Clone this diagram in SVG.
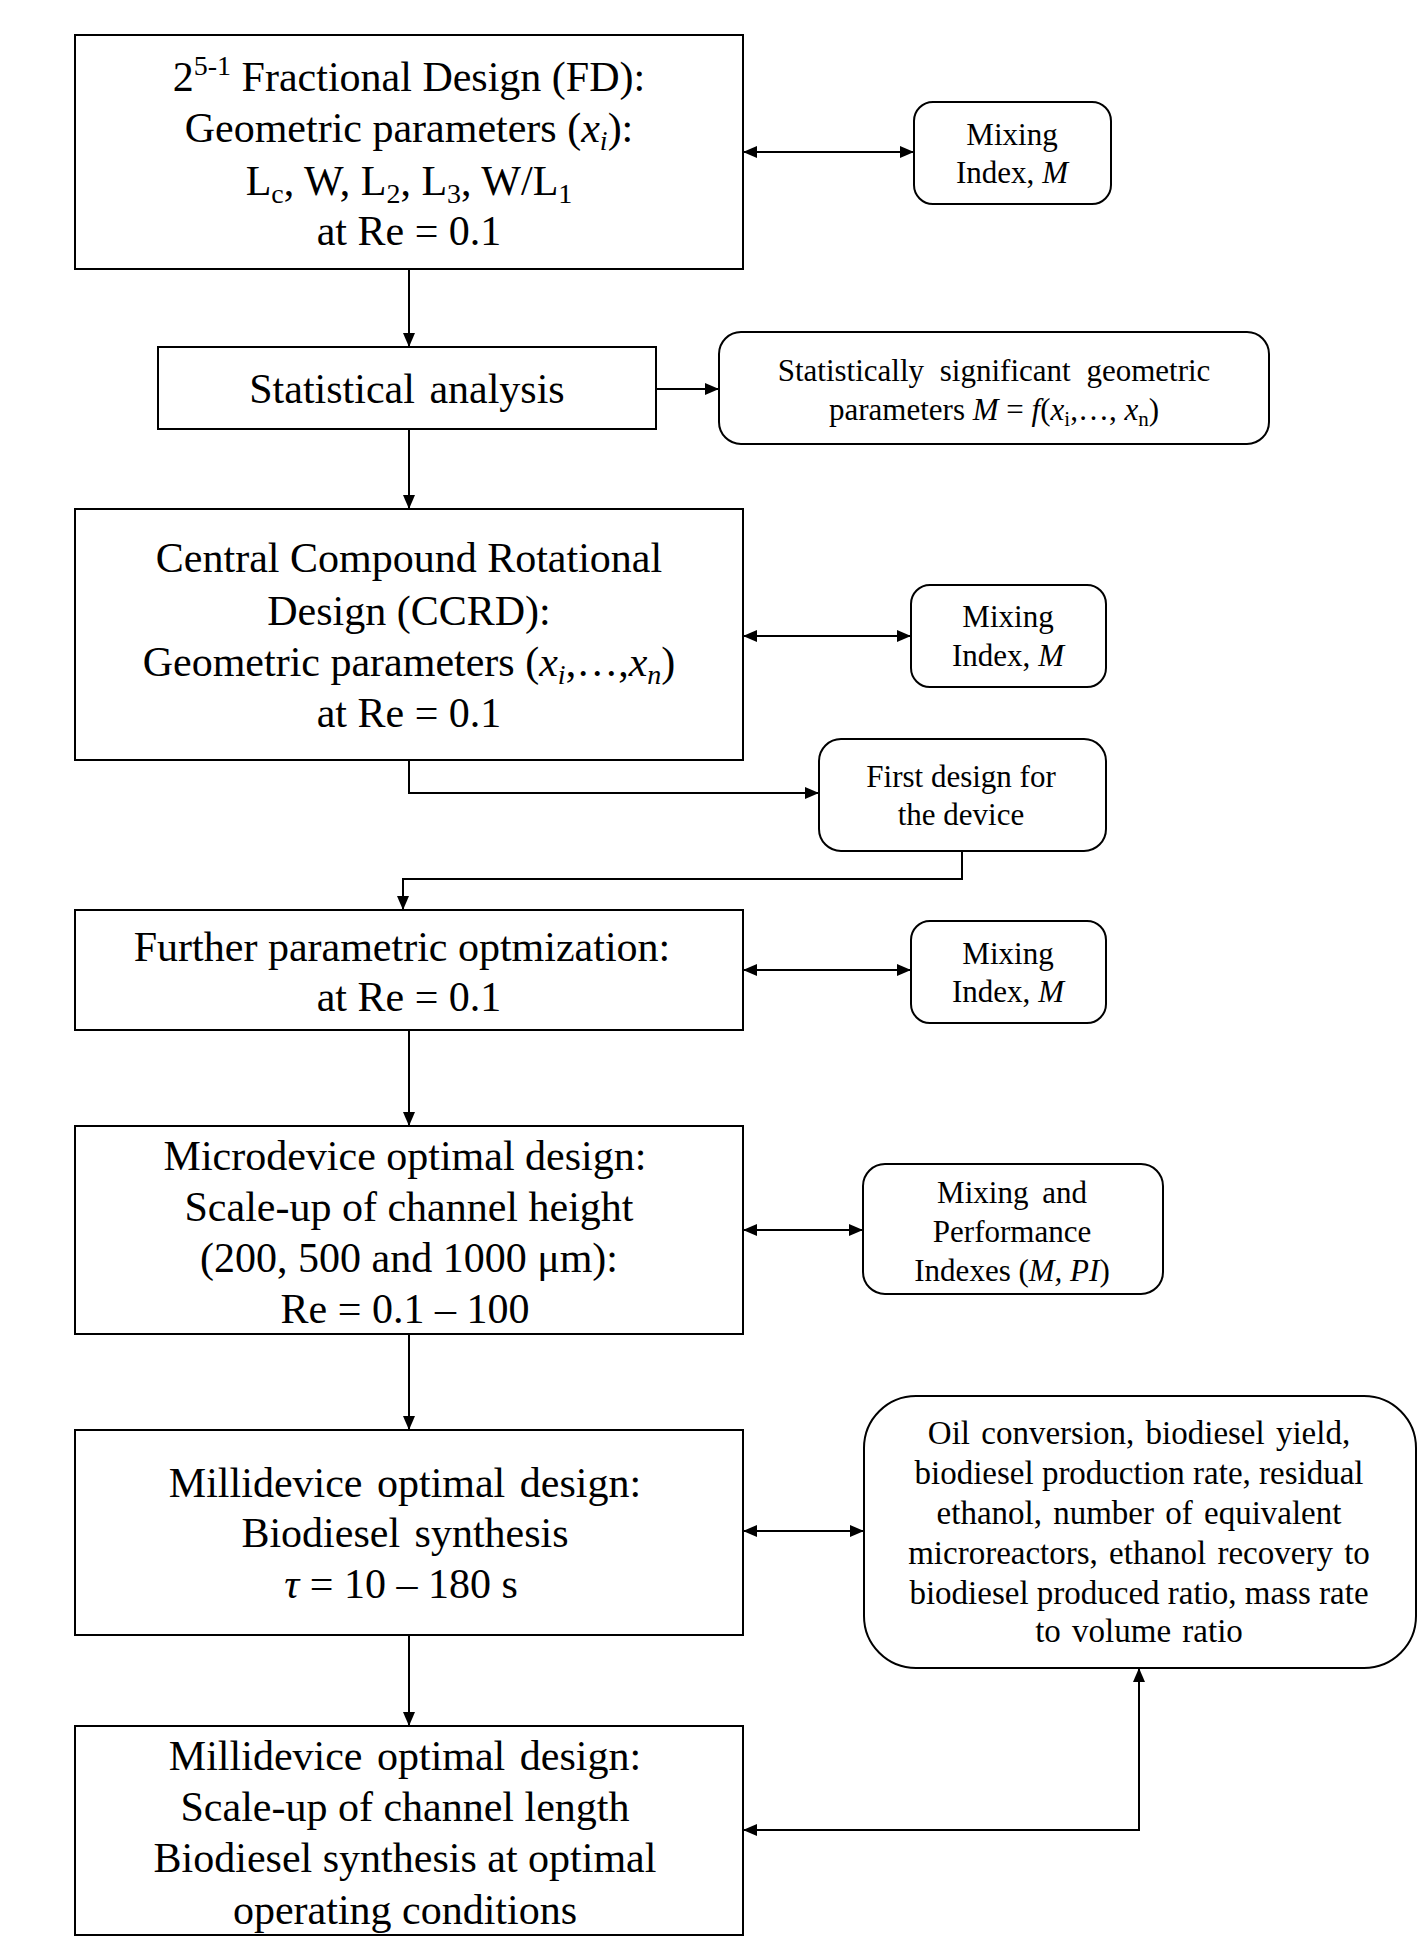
<svg xmlns="http://www.w3.org/2000/svg" width="1421" height="1955" viewBox="0 0 1421 1955">
<style>
.box{fill:#fff;stroke:#000;stroke-width:2}
.t{font-family:"Liberation Serif","Times New Roman",serif;fill:#000;text-anchor:middle}
.m{font-size:42px}
.s{font-size:31px}
.b{font-size:33px}
.i{font-style:italic}
.c{stroke:#000;stroke-width:2;fill:none}
</style>
<defs>
<marker id="ah" viewBox="0 0 14 12" refX="14" refY="6" markerWidth="14" markerHeight="12" markerUnits="userSpaceOnUse" orient="auto-start-reverse">
<path d="M0,0 L14,6 L0,12 z" fill="#000"/>
</marker>
</defs>
<rect width="1421" height="1955" fill="#fff"/>

<g id="connectors">
<line class="c" x1="743" y1="152" x2="914" y2="152" marker-start="url(#ah)" marker-end="url(#ah)"/>
<line class="c" x1="409" y1="269" x2="409" y2="347" marker-end="url(#ah)"/>
<line class="c" x1="656" y1="389" x2="719" y2="389" marker-end="url(#ah)"/>
<line class="c" x1="409" y1="429" x2="409" y2="509" marker-end="url(#ah)"/>
<line class="c" x1="743" y1="636" x2="911" y2="636" marker-start="url(#ah)" marker-end="url(#ah)"/>
<polyline class="c" points="409,760 409,793 819,793" marker-end="url(#ah)"/>
<polyline class="c" points="962,851 962,879 403,879 403,910" marker-end="url(#ah)"/>
<line class="c" x1="743" y1="970" x2="911" y2="970" marker-start="url(#ah)" marker-end="url(#ah)"/>
<line class="c" x1="409" y1="1030" x2="409" y2="1126" marker-end="url(#ah)"/>
<line class="c" x1="743" y1="1230" x2="863" y2="1230" marker-start="url(#ah)" marker-end="url(#ah)"/>
<line class="c" x1="409" y1="1334" x2="409" y2="1430" marker-end="url(#ah)"/>
<line class="c" x1="743" y1="1531" x2="864" y2="1531" marker-start="url(#ah)" marker-end="url(#ah)"/>
<line class="c" x1="409" y1="1635" x2="409" y2="1726" marker-end="url(#ah)"/>
<polyline class="c" points="743,1830 1139,1830 1139,1668" marker-start="url(#ah)" marker-end="url(#ah)"/>
</g>

<g id="fd">
<rect class="box" x="75" y="35" width="668" height="234"/>
<text class="t m" x="409" y="91">2<tspan font-size="28" dy="-16">5-1</tspan><tspan dy="16"> Fractional Design (FD):</tspan></text>
<text class="t m" x="409" y="142">Geometric parameters (<tspan class="i">x</tspan><tspan class="i" font-size="28" dy="8">i</tspan><tspan dy="-8">):</tspan></text>
<text class="t m" x="409" y="195">L<tspan font-size="28" dy="8">c</tspan><tspan dy="-8">, W, L</tspan><tspan font-size="28" dy="8">2</tspan><tspan dy="-8">, L</tspan><tspan font-size="28" dy="8">3</tspan><tspan dy="-8">, W/L</tspan><tspan font-size="28" dy="8">1</tspan></text>
<text class="t m" x="409" y="245">at Re = 0.1</text>
</g>

<g id="mix1">
<rect class="box" x="914" y="102" width="197" height="102" rx="19"/>
<text class="t s" x="1012" y="145">Mixing</text>
<text class="t s" x="1012" y="183">Index, <tspan class="i">M</tspan></text>
</g>

<g id="stat">
<rect class="box" x="158" y="347" width="498" height="82"/>
<text class="t m" x="407" y="403" word-spacing="4">Statistical analysis</text>
</g>

<g id="statsig">
<rect class="box" x="719" y="332" width="550" height="112" rx="22"/>
<text class="t s" x="994" y="381" word-spacing="8">Statistically significant geometric</text>
<text class="t s" x="994" y="420">parameters <tspan class="i">M</tspan> = <tspan class="i">f</tspan>(<tspan class="i">x</tspan><tspan font-size="21" dy="6">i</tspan><tspan dy="-6">,…, </tspan><tspan class="i">x</tspan><tspan font-size="21" dy="6">n</tspan><tspan dy="-6">)</tspan></text>
</g>

<g id="ccrd">
<rect class="box" x="75" y="509" width="668" height="251"/>
<text class="t m" x="409" y="572">Central Compound Rotational</text>
<text class="t m" x="409" y="625">Design (CCRD):</text>
<text class="t m" x="409" y="676">Geometric parameters (<tspan class="i">x</tspan><tspan class="i" font-size="28" dy="8">i</tspan><tspan dy="-8">,…,</tspan><tspan class="i">x</tspan><tspan class="i" font-size="28" dy="8">n</tspan><tspan dy="-8">)</tspan></text>
<text class="t m" x="409" y="727">at Re = 0.1</text>
</g>

<g id="mix2">
<rect class="box" x="911" y="585" width="195" height="102" rx="19"/>
<text class="t s" x="1008" y="627">Mixing</text>
<text class="t s" x="1008" y="666">Index, <tspan class="i">M</tspan></text>
</g>

<g id="first">
<rect class="box" x="819" y="739" width="287" height="112" rx="22"/>
<text class="t s" x="961" y="787">First design for</text>
<text class="t s" x="961" y="825">the device</text>
</g>

<g id="further">
<rect class="box" x="75" y="910" width="668" height="120"/>
<text class="t m" x="402" y="961">Further parametric optmization:</text>
<text class="t m" x="409" y="1011">at Re = 0.1</text>
</g>

<g id="mix3">
<rect class="box" x="911" y="921" width="195" height="102" rx="19"/>
<text class="t s" x="1008" y="964">Mixing</text>
<text class="t s" x="1008" y="1002">Index, <tspan class="i">M</tspan></text>
</g>

<g id="micro">
<rect class="box" x="75" y="1126" width="668" height="208"/>
<text class="t m" x="405" y="1170">Microdevice optimal design:</text>
<text class="t m" x="409" y="1221">Scale-up of channel height</text>
<text class="t m" x="409" y="1272">(200, 500 and 1000 μm):</text>
<text class="t m" x="405" y="1323">Re = 0.1 – 100</text>
</g>

<g id="mixperf">
<rect class="box" x="863" y="1164" width="300" height="130" rx="22"/>
<text class="t s" x="1012" y="1203" word-spacing="6">Mixing and</text>
<text class="t s" x="1012" y="1242">Performance</text>
<text class="t s" x="1012" y="1281">Indexes (<tspan class="i">M, PI</tspan>)</text>
</g>

<g id="milli1">
<rect class="box" x="75" y="1430" width="668" height="205"/>
<text class="t m" x="405" y="1497" word-spacing="4">Millidevice optimal design:</text>
<text class="t m" x="405" y="1547" word-spacing="4">Biodiesel synthesis</text>
<text class="t m" x="401" y="1598"><tspan class="i">τ</tspan> = 10 – 180 s</text>
</g>

<g id="outputs">
<rect class="box" x="864" y="1396" width="552" height="272" rx="52"/>
<text class="t b" x="1139" y="1444" word-spacing="3">Oil conversion, biodiesel yield,</text>
<text class="t b" x="1139" y="1484">biodiesel production rate, residual</text>
<text class="t b" x="1139" y="1524" word-spacing="3">ethanol, number of equivalent</text>
<text class="t b" x="1139" y="1564" word-spacing="3">microreactors, ethanol recovery to</text>
<text class="t b" x="1139" y="1604">biodiesel produced ratio, mass rate</text>
<text class="t b" x="1139" y="1642" word-spacing="3">to volume ratio</text>
</g>

<g id="milli2">
<rect class="box" x="75" y="1726" width="668" height="209"/>
<text class="t m" x="405" y="1770" word-spacing="4">Millidevice optimal design:</text>
<text class="t m" x="405" y="1821">Scale-up of channel length</text>
<text class="t m" x="405" y="1872">Biodiesel synthesis at optimal</text>
<text class="t m" x="405" y="1924">operating conditions</text>
</g>
</svg>
